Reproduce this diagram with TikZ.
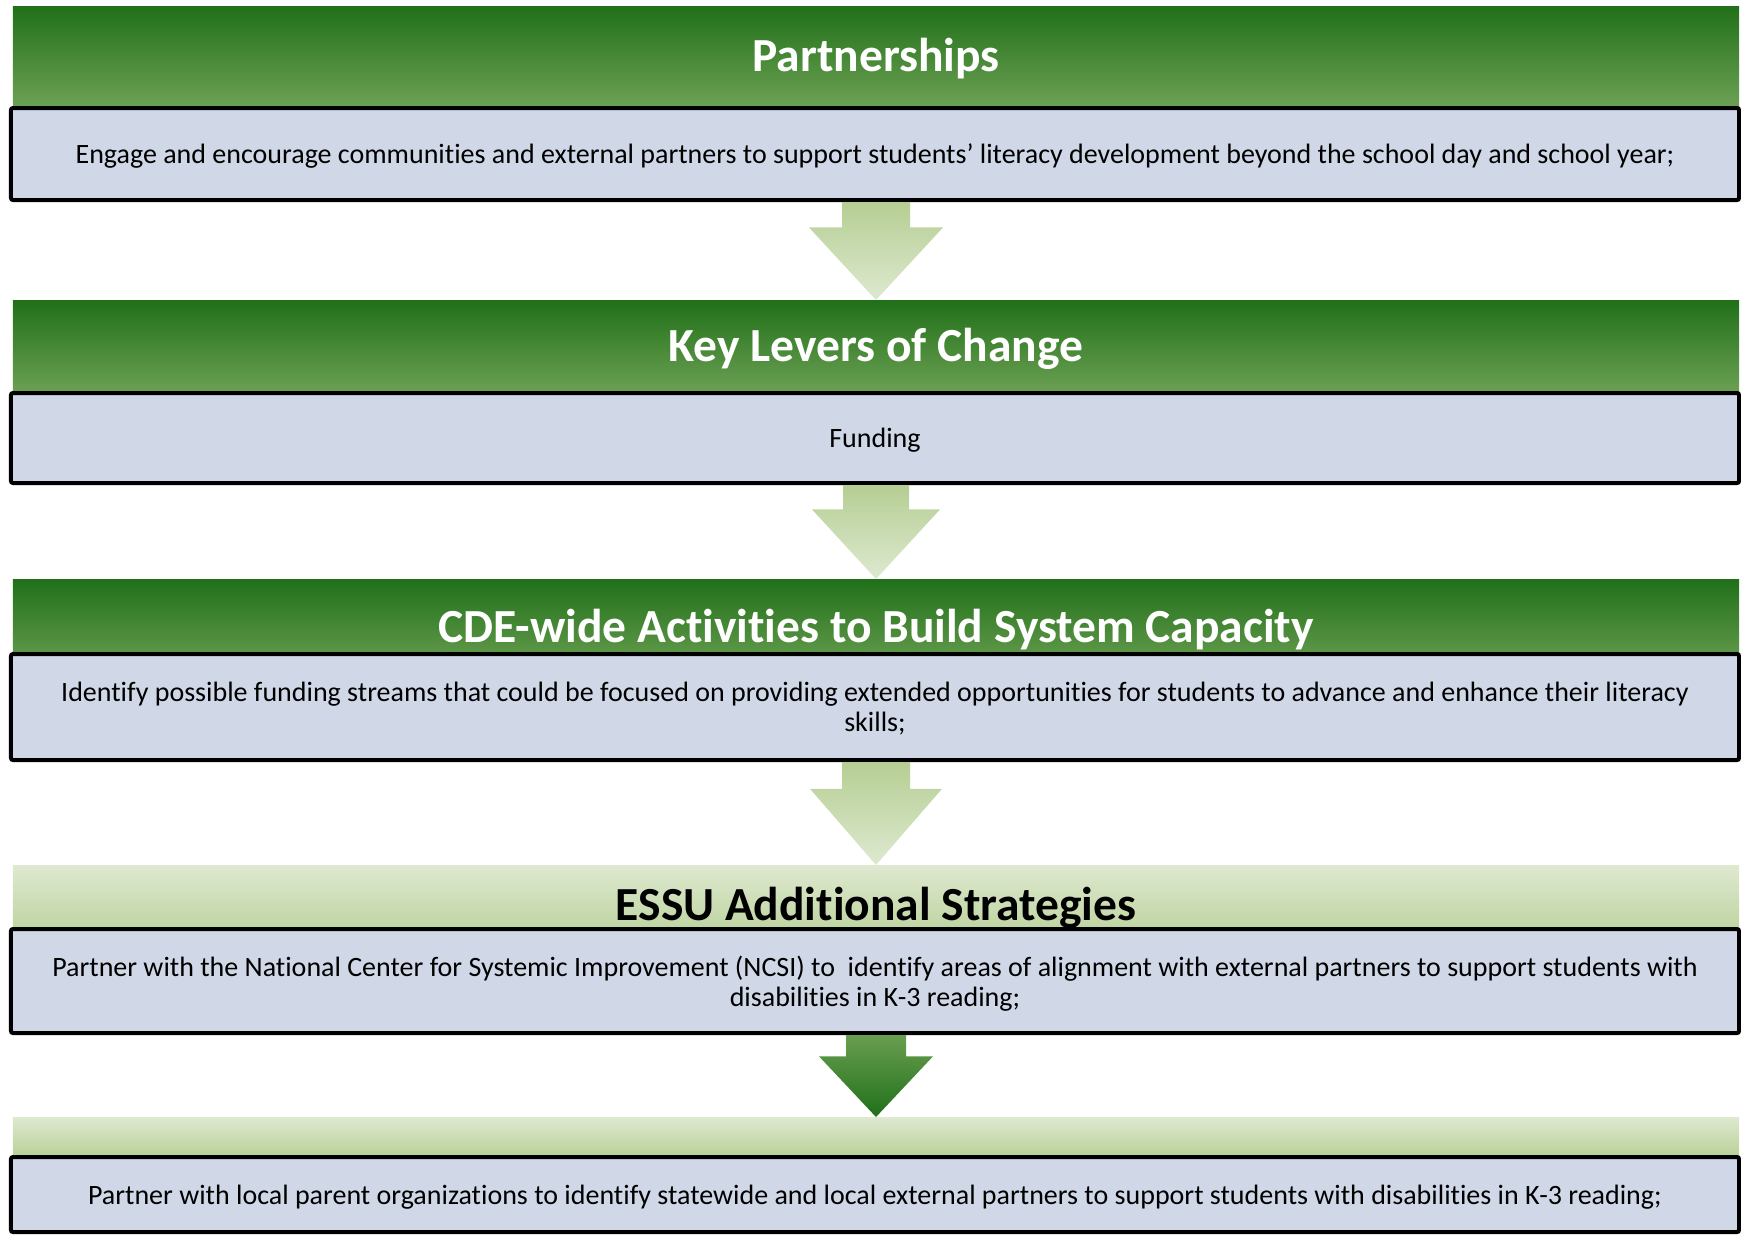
\documentclass[tikz,border=0pt]{standalone}
\usepackage{fontspec}
\setmainfont{Carlito}[Ligatures=NoCommon]
\usetikzlibrary{calc}

\definecolor{darkgreen}{HTML}{217019}
\definecolor{midgreen}{HTML}{70A357}
\definecolor{palegreen}{HTML}{DEE9D0}
\definecolor{sagegreen}{HTML}{B5CE93}
\definecolor{boxblue}{HTML}{D0D8E8}

% block arrow from the bottom of one box to the top of the next bar
\newcommand{\blockarrow}[5]{%
  \coordinate (s) at (#2.north |- #1.south);
  \coordinate (n) at ($(s)!0.26!(#2.north)$);
  \shade[#5] ($(s)+(-#3,0)$) -- ($(n)+(-#3,0)$) -- ($(n)+(-#4,0)$)
    -- (#2.north) -- ($(n)+(#4,0)$) -- ($(n)+(#3,0)$) -- ($(s)+(#3,0)$) -- cycle;
}

\begin{document}
\begin{tikzpicture}[x=1bp,y=-1bp,
  bar/.style={anchor=north, minimum width=1726bp, inner sep=0pt,
    font=\fontsize{47.5bp}{52bp}\selectfont\bfseries},
  greenbar/.style={bar, top color=darkgreen, bottom color=midgreen, text=white},
  palebar/.style={bar, top color=palegreen, bottom color=sagegreen, text=black},
  textbox/.style={draw=black, line width=4bp, rounded corners=2bp, fill=boxblue,
    minimum width=1728bp, inner sep=0pt, align=center, text depth=0pt,
    font=\fontsize{28bp}{30.5bp}\selectfont},
  lightarrow/.style={top color=sagegreen, bottom color=palegreen},
  darkarrow/.style={top color=midgreen!90!darkgreen, bottom color=darkgreen}
]

\useasboundingbox (0,0) rectangle (1741,1236);

% Title bars
\node[greenbar, minimum height=105bp] (head1) at (876,6) {Partnerships};
\node[greenbar, minimum height=98bp] (head2) at (876,300) {Key Levers of Change};
\node[greenbar, minimum height=100bp] (head3) at (876,579) {CDE-wide Activities to Build System Capacity};
\node[palebar, minimum height=86bp] (head4) at (876,865) {ESSU Additional Strategies};
\node[palebar, minimum height=43bp] (head5) at (876,1117) {};

% Text boxes
\node[textbox, minimum height=92bp] (box1) at (875,154)
  {Engage and encourage communities and external partners to support students’ literacy development beyond the school day and school year;};
\node[textbox, minimum height=90bp] (box2) at (875,438) {Funding};
\node[textbox, minimum height=106bp] (box3) at (875,707)
  {Identify possible funding streams that could be focused on providing extended opportunities for students to advance and enhance their literacy\\ skills;};
\node[textbox, minimum height=104bp] (box4) at (875,981)
  {Partner with the National Center for Systemic Improvement (NCSI) to~ identify areas of alignment with external partners to support students with\\ disabilities in K-3 reading;};
\node[textbox, minimum height=75bp] (box5) at (875,1194.5)
  {Partner with local parent organizations to identify statewide and local external partners to support students with disabilities in K-3 reading;};

% Arrows between the steps
\blockarrow{box1}{head2}{34}{67}{lightarrow}
\blockarrow{box2}{head3}{33}{64}{lightarrow}
\blockarrow{box3}{head4}{34}{66}{lightarrow}
\blockarrow{box4}{head5}{30}{57}{darkarrow}

\end{tikzpicture}
\end{document}
